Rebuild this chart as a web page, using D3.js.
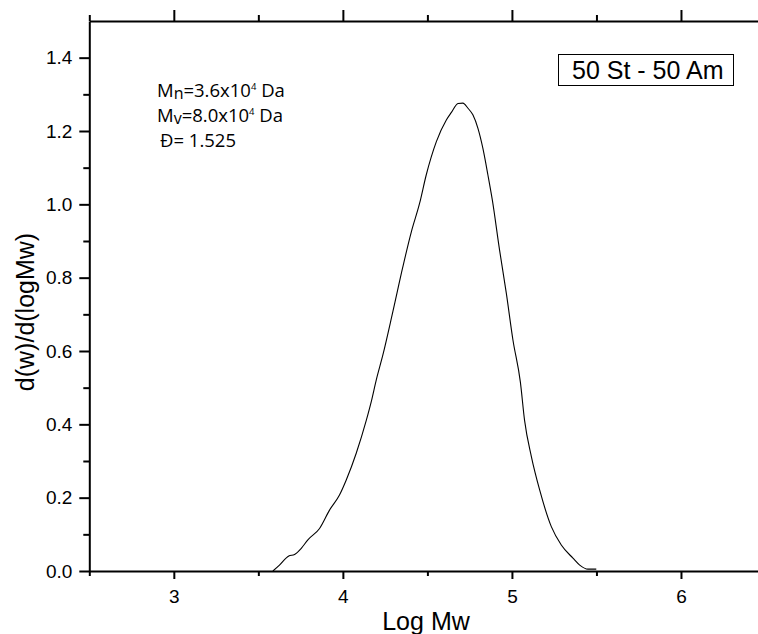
<!DOCTYPE html>
<html>
<head>
<meta charset="utf-8">
<script src="https://cdn.jsdelivr.net/npm/d3@7"></script>
<style>
  html, body { margin: 0; padding: 0; background: #fff; }
  svg { display: block; }
</style>
</head>
<body>
<div id="chart"></div>
<script>
// GPC trace
const logMw = [3.586, 3.625, 3.680, 3.714, 3.754, 3.793, 3.862, 3.921, 3.980, 4.020, 4.079, 4.138, 4.168, 4.198, 4.237, 4.296, 4.355, 4.405, 4.454, 4.493, 4.553, 4.612, 4.641, 4.681, 4.710, 4.740, 4.769, 4.799, 4.828, 4.858, 4.884, 4.927, 4.967, 5.006, 5.050, 5.075, 5.115, 5.164, 5.233, 5.292, 5.361, 5.401, 5.450, 5.499];
const dwdlogMw = [0.000, 0.016, 0.041, 0.045, 0.062, 0.085, 0.116, 0.166, 0.207, 0.248, 0.321, 0.410, 0.462, 0.522, 0.590, 0.708, 0.830, 0.925, 1.003, 1.080, 1.171, 1.230, 1.250, 1.275, 1.276, 1.262, 1.244, 1.207, 1.153, 1.080, 1.012, 0.875, 0.757, 0.630, 0.515, 0.410, 0.312, 0.221, 0.121, 0.071, 0.035, 0.016, 0.005, 0.005];

const xTicks = [3, 4, 5, 6];
const xMinor = [2.5, 3.5, 4.5, 5.5];
const yTicks = [0, 0.2, 0.4, 0.6, 0.8, 1.0, 1.2, 1.4];
const yMinor = [0.1, 0.3, 0.5, 0.7, 0.9, 1.1, 1.3];

const sampleLabel = "50 St - 50 Am";
const xTitle = "Log Mw";
const yTitle = "d(w)/d(logMw)";

const width = 758, height = 634;
const margin = {top: 21, left: 89.3, bottom: 63, right: -7.5};

const x = d3.scaleLinear()
    .domain([2.5, 6.5])
    .range([margin.left, width - margin.right]);
const y = d3.scaleLinear()
    .domain([0, 1.5])
    .range([height - margin.bottom, margin.top]);

const svg = d3.select("#chart").append("svg")
    .attr("width", width)
    .attr("height", height)
    .attr("viewBox", [0, 0, width, height]);

const tickFont = "'Liberation Sans', Arial, sans-serif";

function styleAxis(g) {
  g.selectAll("path, line").attr("stroke", "#000").attr("stroke-width", 2);
  g.selectAll("text").attr("font-family", tickFont).attr("font-size", 19).attr("fill", "#000");
}

// bottom axis
svg.append("g")
    .attr("transform", `translate(0,${y(0)})`)
    .call(d3.axisBottom(x).tickValues(xTicks).tickFormat(d3.format("d")).tickSize(8).tickPadding(11).tickSizeOuter(0))
    .call(styleAxis);
svg.append("g")
    .attr("transform", `translate(0,${y(0)})`)
    .call(d3.axisBottom(x).tickValues(xMinor).tickFormat("").tickSize(5).tickSizeOuter(0))
    .call(styleAxis)
    .call(g => g.select(".domain").remove());

// top axis
svg.append("g")
    .attr("transform", `translate(0,${y(1.5)})`)
    .call(d3.axisTop(x).tickValues(xTicks).tickFormat("").tickSize(11).tickSizeOuter(0))
    .call(styleAxis);
svg.append("g")
    .attr("transform", `translate(0,${y(1.5)})`)
    .call(d3.axisTop(x).tickValues(xMinor).tickFormat("").tickSize(6).tickSizeOuter(0))
    .call(styleAxis)
    .call(g => g.select(".domain").remove());

// left axis
svg.append("g")
    .attr("transform", `translate(${x(2.5)},0)`)
    .call(d3.axisLeft(y).tickValues(yTicks).tickFormat(d3.format(".1f")).tickSize(10).tickPadding(7).tickSizeOuter(0))
    .call(styleAxis);
svg.append("g")
    .attr("transform", `translate(${x(2.5)},0)`)
    .call(d3.axisLeft(y).tickValues(yMinor).tickFormat("").tickSize(6).tickSizeOuter(0))
    .call(styleAxis)
    .call(g => g.select(".domain").remove());

// curve
const pts = logMw.map((v, i) => [v, dwdlogMw[i]]);
svg.append("path")
    .datum(pts)
    .attr("fill", "none")
    .attr("stroke", "#000")
    .attr("stroke-width", 1.1)
    .attr("d", d3.line().curve(d3.curveMonotoneX).x(d => x(d[0])).y(d => y(d[1])));

// axis titles
svg.append("text")
    .attr("x", 426)
    .attr("y", 630)
    .attr("text-anchor", "middle")
    .attr("font-family", tickFont)
    .attr("font-size", 25)
    .text(xTitle);

svg.append("text")
    .attr("transform", "translate(34,312) rotate(-90)")
    .attr("text-anchor", "middle")
    .attr("font-family", tickFont)
    .attr("font-size", 25)
    .text(yTitle);

// sample label box
svg.append("rect")
    .attr("x", 558.5).attr("y", 54.5)
    .attr("width", 175).attr("height", 31)
    .attr("fill", "none").attr("stroke", "#000").attr("stroke-width", 1);
svg.append("text")
    .attr("x", 572).attr("y", 79)
    .attr("font-family", tickFont)
    .attr("font-size", 25)
    .text(sampleLabel);

// molecular weight notes
const noteFont = "'Open Sans', 'Noto Sans', sans-serif";
const notes = svg.append("g").attr("font-family", noteFont).attr("font-size", 18.5).attr("fill", "#000");

function massLine(yb, sub, val) {
  const t = notes.append("text").attr("x", 157).attr("y", yb);
  t.append("tspan").text("M");
  t.append("tspan").attr("font-size", 16).attr("dy", 2).text(sub);
  t.append("tspan").attr("dy", -2).text("=" + val + "x10");
  t.append("tspan").attr("font-size", 9.5).attr("dy", -7).text("4");
  t.append("tspan").attr("dy", 7).text(" Da");
}
massLine(97, "n", "3.6");
massLine(122, "v", "8.0");
notes.append("text").attr("x", 160).attr("y", 147).text("Đ= 1.525");
</script>
</body>
</html>
